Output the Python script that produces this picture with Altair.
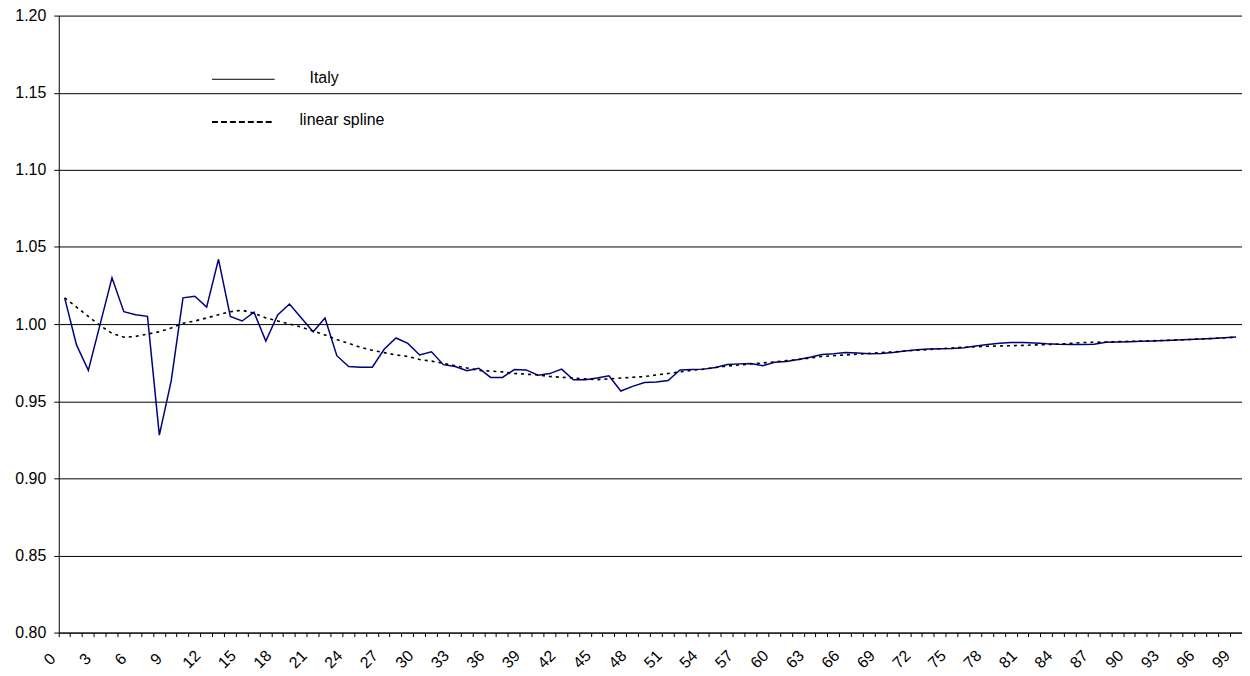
import altair as alt
import pandas as pd

x_index = list(range(100))
x_tick_labels = list(range(0, 100, 3))

italy = [1.017, 0.9865, 0.970, 1.000, 1.030, 1.008, 1.006, 1.005, 0.928, 0.963,
         1.017, 1.018, 1.011, 1.042, 1.005, 1.002, 1.0077, 0.989, 1.006, 1.013,
         1.004, 0.995, 1.004, 0.9795, 0.9725, 0.972, 0.972, 0.9837, 0.991, 0.9875,
         0.980, 0.982, 0.9737, 0.9725, 0.9697, 0.9714, 0.9654, 0.9654, 0.9705, 0.9703,
         0.9669, 0.9679, 0.9708, 0.9639, 0.9639, 0.965, 0.9665, 0.9566, 0.9596, 0.9621,
         0.9624, 0.9634, 0.9703, 0.9705, 0.9708, 0.9718, 0.9738, 0.9742, 0.9744, 0.9730,
         0.9752, 0.9757, 0.9770, 0.9785, 0.9803, 0.9808, 0.9815, 0.9812, 0.9808, 0.9810,
         0.9816, 0.9825, 0.9833, 0.9838, 0.9840, 0.9841, 0.9846, 0.9858, 0.9868, 0.9875,
         0.9880, 0.9880, 0.9877, 0.9872, 0.9869, 0.9868, 0.9868, 0.9869, 0.9882, 0.9884,
         0.9886, 0.9889, 0.9891, 0.9894, 0.9897, 0.9900, 0.9903, 0.9907, 0.9912, 0.9916]

spline = [1.017, 1.011, 1.005, 0.999, 0.994, 0.9915, 0.992, 0.9935, 0.995, 0.9975,
          1.0005, 1.002, 1.004, 1.006, 1.008, 1.009, 1.007, 1.004, 1.002, 1.000,
          0.998, 0.9955, 0.993, 0.990, 0.9875, 0.985, 0.983, 0.9815, 0.980, 0.979,
          0.977, 0.976, 0.9745, 0.973, 0.9715, 0.970, 0.9695, 0.969, 0.968, 0.9675,
          0.967, 0.966, 0.9655, 0.965, 0.9645, 0.964, 0.9645, 0.965, 0.9655, 0.966,
          0.967, 0.968, 0.969, 0.970, 0.9708, 0.9718, 0.9728, 0.9735, 0.9742, 0.9748,
          0.9755, 0.9763, 0.977, 0.978, 0.979, 0.9795, 0.980, 0.9805, 0.981, 0.9815,
          0.982, 0.9825, 0.983, 0.9835, 0.984, 0.9845, 0.985, 0.9853, 0.9856, 0.9858,
          0.986, 0.9862, 0.9865, 0.9867, 0.987, 0.9875, 0.988, 0.9882, 0.9884, 0.9886,
          0.9888, 0.989, 0.9892, 0.9894, 0.9897, 0.990, 0.9903, 0.9907, 0.9911, 0.9915]

y_ticks = [0.80, 0.85, 0.90, 0.95, 1.00, 1.05, 1.10, 1.15, 1.20]
legend_labels = ["Italy", "linear spline"]

FONT = "Liberation Sans"
FS = 16

df = pd.DataFrame({"idx": x_index, "italy": italy, "spline": spline})
df_lab = pd.DataFrame({"idx": x_tick_labels, "lab": [str(v) for v in x_tick_labels]})

x_scale = alt.Scale(type="band", paddingInner=0, paddingOuter=0, domain=x_index)

x_enc = alt.X(
    "idx:O",
    scale=x_scale,
    axis=alt.Axis(
        title=None,
        labels=False,
        bandPosition=0,
        tickSize=4,
        tickColor="black",
        domainColor="black",
        grid=False,
    ),
)

y_axis = alt.Axis(
    title=None,
    values=y_ticks,
    format=".2f",
    labelFont=FONT,
    labelFontSize=FS,
    labelColor="black",
    labelPadding=8,
    tickSize=5,
    tickColor="black",
    domainColor="black",
    grid=True,
    gridColor="#000000",
    gridWidth=1,
)

italy_line = alt.Chart(df).mark_line(color="#000080", strokeWidth=1.5).encode(
    x=x_enc,
    y=alt.Y("italy:Q", scale=alt.Scale(domain=[0.8, 1.2], nice=False, zero=False), axis=y_axis),
)

spline_line = alt.Chart(df).mark_line(color="black", strokeWidth=1.6, strokeDash=[3, 4]).encode(
    x=alt.X("idx:O"),
    y=alt.Y("spline:Q"),
)

# dx/dy are applied in the rotated text frame: (-10.6, -10.6) -> screen (-15, 0)
x_labels_layer = alt.Chart(df_lab).mark_text(
    angle=315, align="center", baseline="middle", font=FONT, fontSize=FS,
    color="black", dx=-10.6, dy=-10.6
).encode(
    x=alt.X("idx:O"),
    y=alt.value(647),
    text="lab:N",
)

one = pd.DataFrame({"a": [0]})

leg_rule1 = alt.Chart(one).mark_rule(color="black", strokeWidth=1).encode(
    x=alt.value(154), x2=alt.value(217), y=alt.value(64)
)
leg_rule2 = alt.Chart(one).mark_rule(color="black", strokeWidth=2, strokeDash=[6, 3]).encode(
    x=alt.value(154), x2=alt.value(217), y=alt.value(107)
)
leg_text1 = alt.Chart(one).mark_text(
    align="left", baseline="middle", font=FONT, fontSize=FS, color="black"
).encode(x=alt.value(252), y=alt.value(63), text=alt.value(legend_labels[0]))
leg_text2 = alt.Chart(one).mark_text(
    align="left", baseline="middle", font=FONT, fontSize=FS, color="black"
).encode(x=alt.value(242), y=alt.value(105), text=alt.value(legend_labels[1]))

chart = alt.layer(
    italy_line, spline_line, x_labels_layer, leg_rule1, leg_rule2, leg_text1, leg_text2
).properties(
    width=1189,
    height=620,
    padding={"left": 51, "top": 6, "right": 0, "bottom": 40},
    autosize=alt.AutoSizeParams(type="none"),
).configure_view(strokeWidth=0)

chart.save("out.html", embed_options={"renderer": "svg", "actions": False})
